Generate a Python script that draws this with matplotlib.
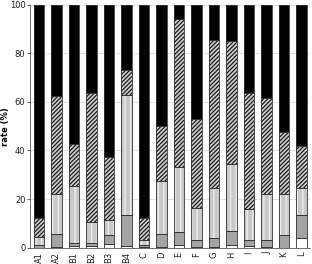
import numpy as np
import matplotlib
matplotlib.use("Agg")
import matplotlib.pyplot as plt

labels = ['A1', 'A2', 'B1', 'B2', 'B3', 'B4', 'C', 'D', 'E', 'F', 'G', 'H', 'I', 'J', 'K', 'L']

# segment heights (%), bottom to top; black segment fills up to 100
white = [0.0, 0.3, 0.5, 0.5, 1.5, 0.5, 0.3, 0.3, 1.0, 0.3, 0.3, 1.0, 0.5, 0.3, 0.0, 4.0]
gray = [1.0, 5.2, 1.5, 1.5, 3.5, 13.0, 0.7, 5.2, 5.5, 2.7, 3.7, 6.0, 2.5, 2.7, 5.0, 9.5]
dotted = [3.5, 16.5, 23.5, 8.5, 6.5, 49.5, 2.0, 22.0, 26.5, 13.5, 20.5, 27.5, 13.0, 19.0, 17.0, 11.0]
hatched = [7.5, 40.5, 17.0, 53.0, 26.0, 10.0, 9.0, 22.5, 61.0, 36.5, 61.0, 50.5, 47.5, 39.5, 25.5, 17.5]

plt.rcParams['hatch.linewidth'] = 0.9
plt.rcParams['font.family'] = 'DejaVu Sans'

fig = plt.figure(figsize=(3.12, 2.64), dpi=100)
ax = fig.add_axes([0.097, 0.062, 0.897, 0.92])

x = np.arange(len(labels))
w = 0.6
bottom = np.zeros(len(labels))
black = 100 - (np.array(white) + np.array(gray) + np.array(dotted) + np.array(hatched))

styles = [
    (white, 'white', None, 'white'),
    (gray, '#a4a4a4', None, '#a4a4a4'),
    (dotted, '#c8c8c8', '|||', '#f0f0f0'),
    (hatched, '#d0d0d0', '////////', '#1a1a1a'),
    (black, 'black', None, 'black'),
]
for vals, fc, hatch, hc in styles:
    vals = np.array(vals)
    ax.bar(x, vals, w, bottom=bottom, color=fc, hatch=hatch, edgecolor=hc, linewidth=0, zorder=2)
    ax.bar(x, vals, w, bottom=bottom, fill=False, edgecolor='#333333', linewidth=0.6, zorder=3)
    bottom += vals

ax.set_xlim(-0.5, len(labels) - 0.5)
ax.set_ylim(0, 100)
ax.set_yticks([0, 20, 40, 60, 80, 100])
ax.yaxis.grid(True, color='#dddddd', linewidth=0.6, zorder=0)
ax.set_axisbelow(True)
ax.set_xticks(x)
ax.set_xticklabels(labels, rotation=90)
ax.tick_params(axis='both', labelsize=6, length=2, width=0.5, pad=1.5, colors='#222222')
ax.tick_params(axis='x', length=0, pad=3)
ax.set_ylabel('rate (%)', fontsize=6, fontweight='bold')
ax.yaxis.set_label_coords(-0.072, 0.5)
for s in ax.spines.values():
    s.set_linewidth(0.6)
    s.set_color('#555555')
ax.spines['top'].set_visible(False)
ax.spines['right'].set_visible(False)

fig.savefig('out.png', dpi=100)
